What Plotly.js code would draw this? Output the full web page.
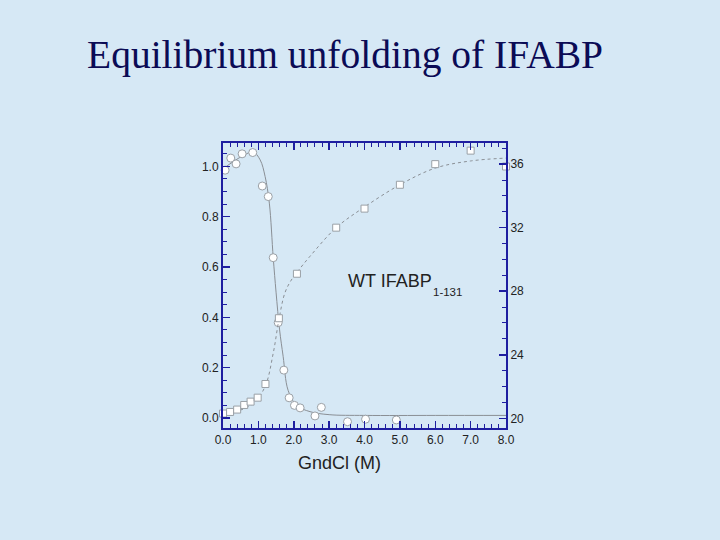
<!DOCTYPE html>
<html>
<head>
<meta charset="utf-8">
<script src="https://cdn.plot.ly/plotly-3.0.1.min.js"></script>
<style>html,body{margin:0;padding:0;background:#d6e8f5;}#chart{width:720px;height:540px;}</style>
</head>
<body>
<div id="chart"></div>
<script>
// Circles: fraction (left axis)
const circleX = [0.06, 0.22, 0.37, 0.54, 0.84, 1.11, 1.28, 1.42, 1.56, 1.72, 1.87, 2.02, 2.18, 2.60, 2.78, 3.52, 4.03, 4.90];
const circleY = [0.985, 1.033, 1.01, 1.05, 1.055, 0.922, 0.88, 0.637, 0.379, 0.19, 0.08, 0.05, 0.04, 0.008, 0.042, -0.015, -0.005, -0.008];
// Circle fit curve
const circleFitX = [0.0, 0.3, 0.6, 0.85, 1.05, 1.19, 1.31, 1.42, 1.5, 1.6, 1.7, 1.84, 2.08, 2.46, 3.0, 4.0, 6.0, 8.0];
const circleFitY = [0.99, 1.02, 1.045, 1.058, 1.026, 0.96, 0.854, 0.637, 0.5, 0.35, 0.245, 0.11, 0.05, 0.025, 0.013, 0.01, 0.01, 0.01];
// Squares: right axis
const squareX = [0.0, 0.2, 0.4, 0.6, 0.78, 0.98, 1.2, 1.58, 2.09, 3.2, 4.0, 5.0, 6.0, 7.0, 8.0];
const squareY = [20.3, 20.4, 20.55, 20.84, 21.05, 21.3, 22.16, 26.3, 29.1, 32.0, 33.2, 34.7, 36.0, 36.85, 35.85];
const squareFitX = [0.0, 0.38, 0.86, 1.19, 1.42, 1.58, 1.75, 1.93, 2.13, 2.46, 3.2, 4.0, 5.0, 6.0, 7.0, 8.0];
const squareFitY = [20.2, 20.42, 20.95, 22.0, 24.1, 26.2, 27.9, 28.7, 29.3, 30.2, 32.0, 33.3, 34.7, 35.75, 36.2, 36.38];

const xTicks = [0, 1, 2, 3, 4, 5, 6, 7, 8];
const leftTicks = [0, 0.2, 0.4, 0.6, 0.8, 1.0];
const rightTicks = [20, 24, 28, 32, 36];

const axisColor = '#1e1ea0';
const bg = '#d6e8f5';

const traces = [
  {x: circleFitX, y: circleFitY, mode: 'lines', line: {color: '#8a8f95', width: 1, shape: 'spline'}, hoverinfo: 'skip', yaxis: 'y'},
  {x: squareFitX, y: squareFitY, mode: 'lines', line: {color: '#8a8f95', width: 1, shape: 'spline', dash: 'dot'}, hoverinfo: 'skip', yaxis: 'y2'},
  {x: circleX, y: circleY, mode: 'markers', marker: {symbol: 'circle', size: 8, color: '#ffffff', line: {color: '#9aa0a6', width: 1}}, yaxis: 'y', cliponaxis: false},
  {x: squareX, y: squareY, mode: 'markers', marker: {symbol: 'square', size: 7, color: '#ffffff', line: {color: '#9aa0a6', width: 1}}, yaxis: 'y2', cliponaxis: false}
];

const tickFont = {family: 'Arial, "Liberation Sans", sans-serif', size: 12, color: '#222222'};

const layout = {
  width: 720, height: 540,
  paper_bgcolor: bg, plot_bgcolor: bg,
  showlegend: false,
  margin: {l: 223, r: 214, t: 143, b: 112, pad: 0},
  xaxis: {
    range: [0, 8], tickvals: xTicks, ticktext: xTicks.map(v => v.toFixed(1)),
    showgrid: false, zeroline: false, showline: true, linecolor: axisColor, linewidth: 2,
    mirror: 'ticks', ticks: 'inside', ticklen: 7, tickwidth: 1.5, tickcolor: axisColor,
    minor: {dtick: 0.2, ticks: 'inside', ticklen: 4, tickcolor: axisColor, tickwidth: 1},
    tickfont: tickFont
  },
  yaxis: {
    range: [-0.04, 1.093], tickvals: leftTicks, ticktext: leftTicks.map(v => v.toFixed(1)),
    showgrid: false, zeroline: false, showline: true, linecolor: axisColor, linewidth: 2,
    ticks: 'inside', ticklen: 7, tickwidth: 1.5, tickcolor: axisColor,
    minor: {dtick: 0.05, tick0: 0, ticks: 'inside', ticklen: 4, tickcolor: axisColor, tickwidth: 1},
    tickfont: tickFont
  },
  yaxis2: {
    overlaying: 'y', side: 'right', anchor: 'x',
    range: [19.39, 37.33], tickvals: rightTicks, ticktext: rightTicks.map(String),
    showgrid: false, zeroline: false, showline: true, linecolor: axisColor, linewidth: 2,
    ticks: 'inside', ticklen: 7, tickwidth: 1.5, tickcolor: axisColor,
    minor: {dtick: 1, tick0: 20, ticks: 'inside', ticklen: 4, tickcolor: axisColor, tickwidth: 1},
    tickfont: tickFont
  },
  annotations: [
    {text: 'Equilibrium unfolding of IFABP', showarrow: false,
     font: {family: '"Liberation Serif", "Times New Roman", serif', size: 39.5, color: '#0b0b55'}},
    {text: 'GndCl (M)', showarrow: false,
     font: {family: 'Arial, "Liberation Sans", sans-serif', size: 18, color: '#222222'}},
    {text: 'WT IFABP', showarrow: false,
     font: {family: 'Arial, "Liberation Sans", sans-serif', size: 18, color: '#222222'}},
    {text: '1-131', showarrow: false,
     font: {family: 'Arial, "Liberation Sans", sans-serif', size: 11.5, color: '#222222'}}
  ]
};

// place annotations in pixel terms relative to plot area
const plotL = 223, plotR = 506, plotT = 143, plotB = 428;
function px2paperX(px) { return (px - plotL) / (plotR - plotL); }
function px2paperY(py) { return (plotB - py) / (plotB - plotT); }
const pos = [[345, 55, 'center'], [339, 463, 'center'], [346, 281, 'left'], [431, 292, 'left']];
pos.forEach((p, i) => {
  const a = layout.annotations[i];
  a.xref = 'paper'; a.yref = 'paper';
  a.x = px2paperX(p[0]); a.y = px2paperY(p[1]);
  a.xanchor = p[2]; a.yanchor = 'middle';
});

Plotly.newPlot('chart', traces, layout, {displayModeBar: false, staticPlot: true});
</script>
</body>
</html>
